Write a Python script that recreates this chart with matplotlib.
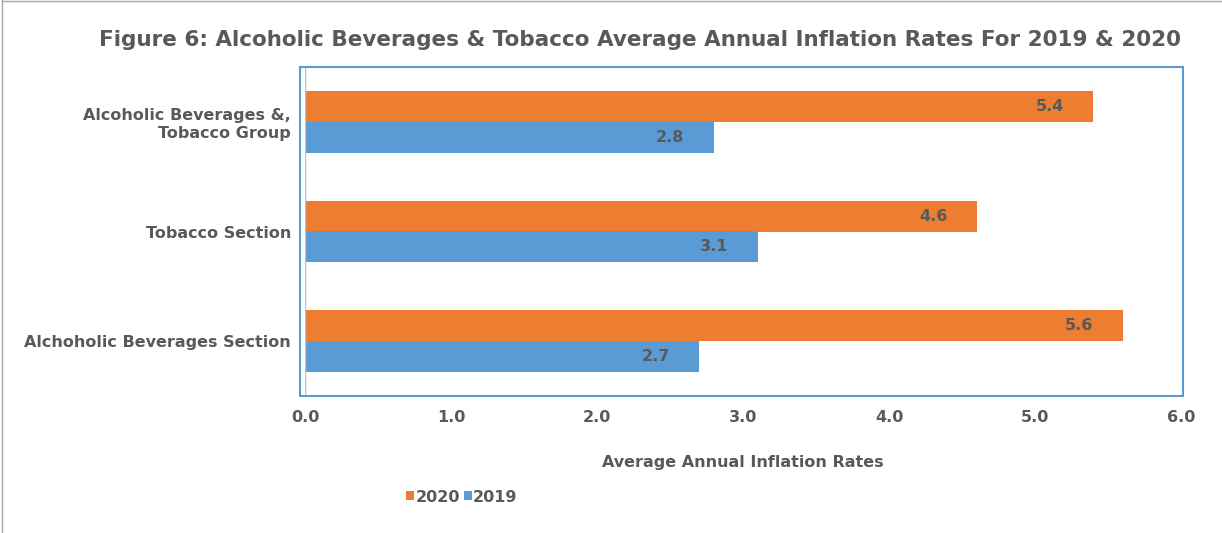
import matplotlib.pyplot as plt
import numpy as np
from matplotlib.patches import Rectangle

categories = ["Alchoholic Beverages Section", "Tobacco Section", "Alcoholic Beverages &,\nTobacco Group"]
vals_2020 = [5.6, 4.6, 5.4]
vals_2019 = [2.7, 3.1, 2.8]

orange = "#ED7D31"
blue = "#5B9BD5"
grey = "#595959"
plt.rcParams['font.family'] = ['DejaVu Sans']

fig = plt.figure(figsize=(12.22, 5.33), dpi=100)
W, H = 1222, 533
ax = fig.add_axes([305 / W, 1 - 396 / H, (1181 - 305) / W, (396 - 67) / H])

y = np.arange(len(categories))
h = 0.28
b20 = ax.barh(y + h / 2, vals_2020, height=h, color=orange, label="2020")
b19 = ax.barh(y - h / 2, vals_2019, height=h, color=blue, label="2019")
for bars, vals in ((b20, vals_2020), (b19, vals_2019)):
    for r, v in zip(bars, vals):
        ax.text(v - 0.2, r.get_y() + r.get_height() / 2, f"{v:.1f}", ha="right", va="center",
                fontsize=11.5, fontweight="bold", color=grey)

ax.set_xlim(0, 6)
ax.set_ylim(-0.5, 2.5)
ax.set_xticks(np.arange(0, 6.1, 1))
ax.set_xticklabels([f"{t:.1f}" for t in np.arange(0, 6.1, 1)])
ax.set_yticks(y)
ax.set_yticklabels(categories)
ax.tick_params(length=0, labelsize=11.5, labelcolor=grey, pad=10)
for lab in ax.get_xticklabels() + ax.get_yticklabels():
    lab.set_fontweight("bold")
for s in ax.spines.values():
    s.set_visible(False)
ax.axvline(0, color="#BFBFBF", lw=1)
ax.set_xlabel("Average Annual Inflation Rates", fontsize=11.5, fontweight="bold", color=grey, labelpad=22)

# frame around plot area and partial outer border
fig.add_artist(Rectangle((300 / W, 1 - 396 / H), 883 / W, 329 / H, transform=fig.transFigure,
                         fill=False, ec=blue, lw=1.5))
fig.add_artist(plt.Line2D([2 / W, 2 / W], [0, 1], transform=fig.transFigure, color="#A6A6A6", lw=1))
fig.add_artist(plt.Line2D([2 / W, 1], [0.998, 0.998], transform=fig.transFigure, color="#A6A6A6", lw=1))

fig.text(1181 / W, 1 - 40 / H, "Figure 6: Alcoholic Beverages & Tobacco Average Annual Inflation Rates For 2019 & 2020",
         ha="right", va="center", fontsize=15.5, fontweight="bold", color=grey)

fig.legend(handles=[b20, b19], loc="center", bbox_to_anchor=(462 / W, 1 - 497 / H), ncol=2, frameon=False,
           handlelength=0.5, handleheight=0.5, handletextpad=0.1, columnspacing=0.2,
           prop={"size": 11.5, "weight": "bold"}, labelcolor=grey)

fig.savefig("out.png", dpi=100)
